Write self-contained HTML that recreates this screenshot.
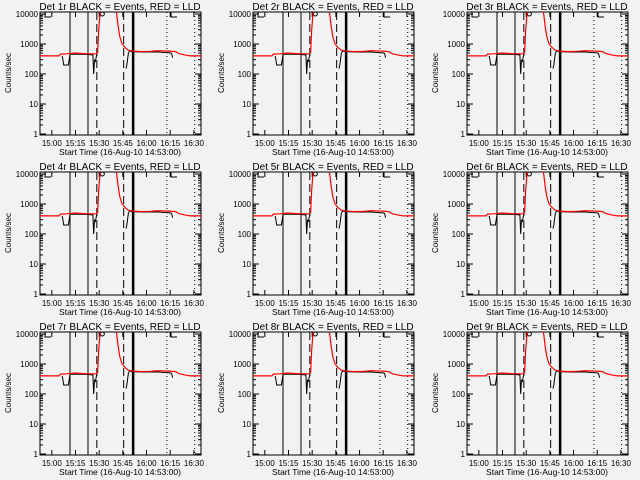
<!DOCTYPE html>
<html><head><meta charset="utf-8"><style>
body{margin:0;background:#f2f2f2;}
svg{display:block;font-family:"Liberation Sans",sans-serif;}
</style></head><body>
<svg id="c" width="640" height="480" viewBox="0 0 640 480"></svg>
<script>
const detNames=["1r","2r","3r","4r","5r","6r","7r","8r","9r"];
const tickLabels=["15:00","15:15","15:30","15:45","16:00","16:15","16:30"];
const tickMins=[7.5,22.5,37.5,52.5,67.5,82.5,97.5];
const yTicks=[1,10,100,1000,10000];
const yTickLabels=["1","10","100","1000","10000"];
const redT=[0,12,13,17,22,30,36,36.5,37.2,38,39,47,48,48.7,49.5,50.5,52,54,56,59,64,70,75,82,86,88,91,93,95,102];
const redV=[400,400,460,470,500,470,470,520,3000,10000,20000,20000,15000,9000,4000,1800,1000,750,620,580,560,570,600,580,560,480,440,420,400,400];
const blkT=[[14,14.5,15,15.5,18,19,22,30,33.5,34,34.5,35,36],[54.5,55,56,57,58,60,65,75,83,83.5,84]];
const blkV=[[400,300,200,200,200,450,460,450,430,100,300,250,450],[150,200,500,600,560,550,540,540,500,450,350]];
const solidLines=[19,30.4];
const dashedLines=[36,53];
const thickLine=[59];
const dottedLines=[80.4,98];
const svg=document.getElementById('c');
const NS='http://www.w3.org/2000/svg';
function mk(tag,attrs,parent){const e=document.createElementNS(NS,tag);for(const k in attrs)e.setAttribute(k,attrs[k]);parent.appendChild(e);return e;}
const colX=[0,213,427],rowY=[0,160,320];
for(let p=0;p<9;p++){
  const ox=colX[p%3],oy=rowY[Math.floor(p/3)];
  const g=mk('g',{transform:`translate(${ox},${oy})`},svg);
  
  
  const L=40,R=201,T=12,B=135;
  const xs=m=>L+m*(R-L)/102;
  const ys=v=>134-30*Math.log10(v);
  const clip='cl'+p;
  const cp=mk('clipPath',{id:clip},g);mk('rect',{x:L,y:T,width:R-L,height:B-T},cp);
  const t=mk('text',{x:120,y:10,'font-size':10,'text-anchor':'middle',fill:'#000'},g);
  t.textContent='Det '+detNames[p]+' BLACK = Events, RED = LLD';
  
  
  const fr=mk('rect',{x:L,y:T,width:R-L,height:B-T,fill:'none',stroke:'#000','stroke-width':1},g);
  
  
  yTicks.forEach((v,i)=>{
    const y=ys(v);
    mk('line',{x1:L,x2:L+6,y1:y,y2:y,stroke:'#000'},g);mk('line',{x1:R-6,x2:R,y1:y,y2:y,stroke:'#000'},g);
    if(i<4)for(let k=2;k<10;k++){const yy=ys(v*k);mk('line',{x1:L,x2:L+3,y1:yy,y2:yy,stroke:'#000'},g);mk('line',{x1:R-3,x2:R,y1:yy,y2:yy,stroke:'#000'},g);}
    const tl=mk('text',{x:L-2,y:y+3,'font-size':8,'text-anchor':'end'},g);tl.textContent=yTickLabels[i];
    
    
  });
  tickMins.forEach((m,i)=>{
    const x=xs(m);
    mk('line',{x1:x,x2:x,y1:B,y2:B-5,stroke:'#000'},g);mk('line',{x1:x,x2:x,y1:T,y2:T+5,stroke:'#000'},g);
    const tl=mk('text',{x:x,y:146,'font-size':8,'text-anchor':'middle'},g);tl.textContent=tickLabels[i];
    
    
  });
  const xt=mk('text',{x:120,y:155,'font-size':8.5,'text-anchor':'middle'},g);xt.textContent='Start Time (16-Aug-10 14:53:00)';
  
  
  const yt=mk('text',{x:11,y:73,'font-size':8,'text-anchor':'middle',transform:'rotate(-90 11 73)'},g);yt.textContent='Counts/sec';
  
  
  const vl=(m,attrs)=>mk('line',Object.assign({x1:xs(m),x2:xs(m),y1:T,y2:B,stroke:'#000'},attrs),g);
  solidLines.forEach(m=>vl(m,{}));
  dashedLines.forEach(m=>vl(m,{'stroke-dasharray':'8,4'}));
  thickLine.forEach(m=>vl(m,{'stroke-width':2.5}));
  dottedLines.forEach(m=>vl(m,{'stroke-dasharray':'1,3'}));
  mk('path',{d:`M${L+5} ${T} V${T+5} H${L+11}`,stroke:'#000',fill:'none'},g);
  mk('path',{d:`M${xs(83)} ${T} V${T+5} H${xs(83)+6}`,stroke:'#000',fill:'none'},g);
  mk('circle',{cx:xs(39.5),cy:T+2,r:2,fill:'none',stroke:'#000'},g);
  blkT.forEach((seg,si)=>{
    let d='';seg.forEach((m,i)=>{d+=(i?'L':'M')+xs(m).toFixed(1)+' '+ys(blkV[si][i]).toFixed(1);});
    const pa=mk('path',{d:d,stroke:'#000',fill:'none','stroke-width':1,'clip-path':`url(#${clip})`},g);
    
    
  });
  let d='';redT.forEach((m,i)=>{d+=(i?'L':'M')+xs(m).toFixed(1)+' '+ys(redV[i]).toFixed(1);});
  const rp=mk('path',{d:d,stroke:'#f00',fill:'none','stroke-width':1.2,'clip-path':`url(#${clip})`},g);
  
  
}
</script>
</body></html>
